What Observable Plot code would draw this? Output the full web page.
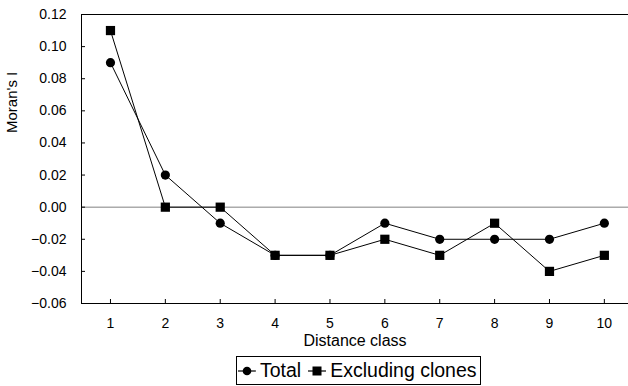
<!DOCTYPE html>
<html><head><meta charset="utf-8">
<script src="https://cdn.jsdelivr.net/npm/d3@7"></script>
<script src="https://cdn.jsdelivr.net/npm/@observablehq/plot@0.6"></script>
<style>
body{margin:0;background:#fff;font-family:"Liberation Sans",Arial,sans-serif;}
#chart{position:absolute;left:0;top:0;}
#legend{position:absolute;left:236px;top:356px;height:27px;border:1px solid #000;display:flex;align-items:center;font-size:19.5px;padding:0 3px 0 1px;white-space:nowrap;color:#000;background:#fff;}
#legend span.item{display:flex;align-items:center;margin-right:7px;}
#legend span.item:last-child{margin-right:0;}
#legend svg{margin-right:4px;}
</style></head>
<body><div id="chart"></div><div id="legend"></div>
<script>
const distanceClass = [1, 2, 3, 4, 5, 6, 7, 8, 9, 10];
const total = [0.09, 0.02, -0.01, -0.03, -0.03, -0.01, -0.02, -0.02, -0.02, -0.01];
const excludingClones = [0.11, 0.00, 0.00, -0.03, -0.03, -0.02, -0.03, -0.01, -0.04, -0.03];
const yTicks = [-0.06, -0.04, -0.02, 0.00, 0.02, 0.04, 0.06, 0.08, 0.10, 0.12];
const seriesNames = ["Total", "Excluding clones"];
const seriesSymbols = ["circle", "square"];

const rows = distanceClass.flatMap((d, i) => [
  {x: d, y: total[i], s: seriesNames[0]},
  {x: d, y: excludingClones[i], s: seriesNames[1]}
]);

const chart = Plot.plot({
  width: 628, height: 352,
  marginLeft: 81, marginRight: 0, marginTop: 14, marginBottom: 49,
  style: {fontFamily: "'Liberation Sans', Arial, sans-serif", fontSize: "14px", background: "#fff", color: "#000"},
  x: {type: "linear", domain: [0.472, 10.44]},
  y: {domain: [-0.06, 0.12]},
  symbol: {domain: seriesNames, range: seriesSymbols},
  marks: [
    Plot.ruleY([0], {stroke: "#808080", strokeWidth: 1}),
    Plot.frame({anchor: "top", stroke: "#000"}),
    Plot.frame({anchor: "bottom", stroke: "#000"}),
    Plot.frame({anchor: "left", stroke: "#000"}),
    Plot.axisX({ticks: distanceClass, tickFormat: d => String(d), tickSize: -4, tickPadding: 19, label: null, fontSize: 14}),
    Plot.axisY({ticks: yTicks, tickFormat: d3.format(".2f"), tickSize: -4, tickPadding: 19, label: null, fontSize: 14}),
    Plot.line(rows, {x: "x", y: "y", z: "s", stroke: "#000", strokeWidth: 1}),
    Plot.dot(rows.filter(r => r.s === seriesNames[0]), {x: "x", y: "y", symbol: "s", r: 4.6, fill: "#000", stroke: "none"}),
    Plot.dot(rows.filter(r => r.s === seriesNames[1]), {x: "x", y: "y", symbol: "s", r: 5.2, fill: "#000", stroke: "none"}),
    Plot.text(["Distance class"], {frameAnchor: "bottom", dy: 42, fontSize: 16, fill: "#000"}),
    Plot.text(["Moran's I"], {frameAnchor: "left", dx: -69, dy: -26, rotate: -90, fontSize: 15, fill: "#000"})
  ]
});
document.getElementById("chart").appendChild(chart);

const legend = document.getElementById("legend");
seriesNames.forEach((name, i) => {
  const item = document.createElement("span");
  item.className = "item";
  const marker = seriesSymbols[i] === "circle"
    ? '<circle cx="9" cy="8" r="4.3" fill="#000"/>'
    : '<rect x="4.5" y="3.5" width="9" height="9" fill="#000"/>';
  item.innerHTML = '<svg width="18" height="16"><line x1="0" y1="8" x2="18" y2="8" stroke="#000" stroke-width="1.2"/>' + marker + '</svg>' + name;
  legend.appendChild(item);
});
</script>
</body></html>
